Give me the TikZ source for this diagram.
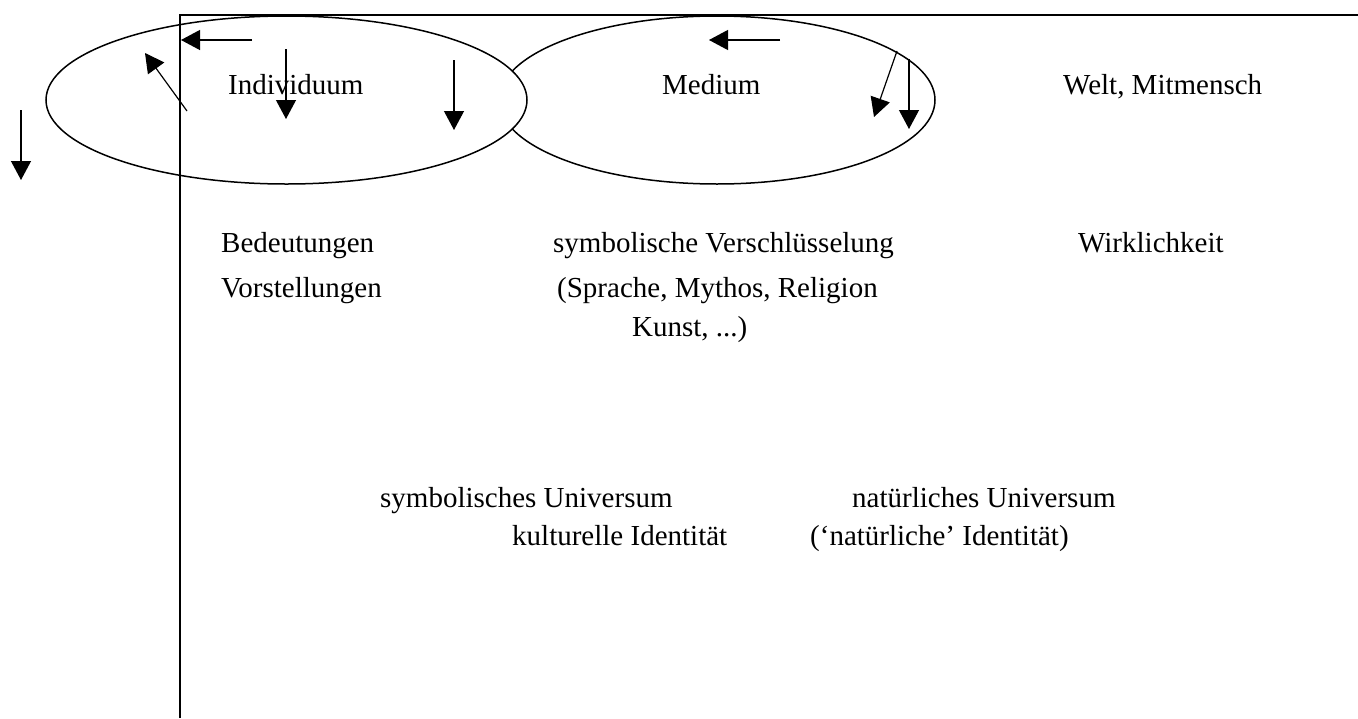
\documentclass[tikz,border=0pt]{standalone}
\usepackage{fontspec}
\setmainfont{Liberation Serif}
\usetikzlibrary{arrows.meta}
\begin{document}
\begin{tikzpicture}[x=1pt,y=-1pt,
  lbl/.style={anchor=base west,inner sep=0pt,font=\fontsize{29}{34}\selectfont},
  arr/.style={line width=1.2pt,-{Triangle[length=19pt,width=20pt]}},
  frame/.style={line width=2pt},
  ell/.style={line width=1.5pt}]
\useasboundingbox (0,0) rectangle (1358,718);
% ellipses
\draw[ell] (717,100) ellipse [x radius=218,y radius=84];
\draw[ell,fill=white] (286.5,100) ellipse [x radius=240.5,y radius=84];
% frame
\coordinate (fb) at (180,718);
\coordinate (fc) at (180,15);
\coordinate (fr) at (1358,15);
\draw[frame] (fb) -- (fc) -- (fr);
% texts
\node[lbl] (ind) at (228,94) {Individuum};
\node[lbl] (med) at (662,94) {Medium};
\node[lbl] (welt) at (1063,94) {Welt, Mitmensch};
\node[lbl] (bed) at (221,252) {Bedeutungen};
\node[lbl] (sym) at (553,252) {symbolische Verschlüsselung};
\node[lbl] (wir) at (1078,252) {Wirklichkeit};
\node[lbl] (vor) at (221,297) {Vorstellungen};
\node[lbl] (spr) at (557,297) {(Sprache, Mythos, Religion};
\node[lbl] (kun) at (632,336) {Kunst, ...)};
\node[lbl] (symu) at (380,507) {symbolisches Universum};
\node[lbl] (natu) at (852,507) {natürliches Universum};
\node[lbl] (kult) at (512,545) {kulturelle Identität};
\node[lbl] (nati) at (810,545) {(‘natürliche’ Identität)};
% arrows
\coordinate (a1s) at (21,110);  \coordinate (a1e) at (21,180);
\coordinate (a2s) at (187,111); \coordinate (a2e) at (145,53);
\coordinate (a3s) at (252,40);  \coordinate (a3e) at (181,40);
\coordinate (a4s) at (286,49);  \coordinate (a4e) at (286,119);
\coordinate (a5s) at (454,60);  \coordinate (a5e) at (454,130);
\coordinate (a6s) at (780,40);  \coordinate (a6e) at (709,40);
\coordinate (a7s) at (897,51);  \coordinate (a7e) at (874,117);
\coordinate (a8s) at (909,59);  \coordinate (a8e) at (909,129);
\foreach \i in {1,...,8} \draw[arr] (a\i s) -- (a\i e);
\end{tikzpicture}
\end{document}
